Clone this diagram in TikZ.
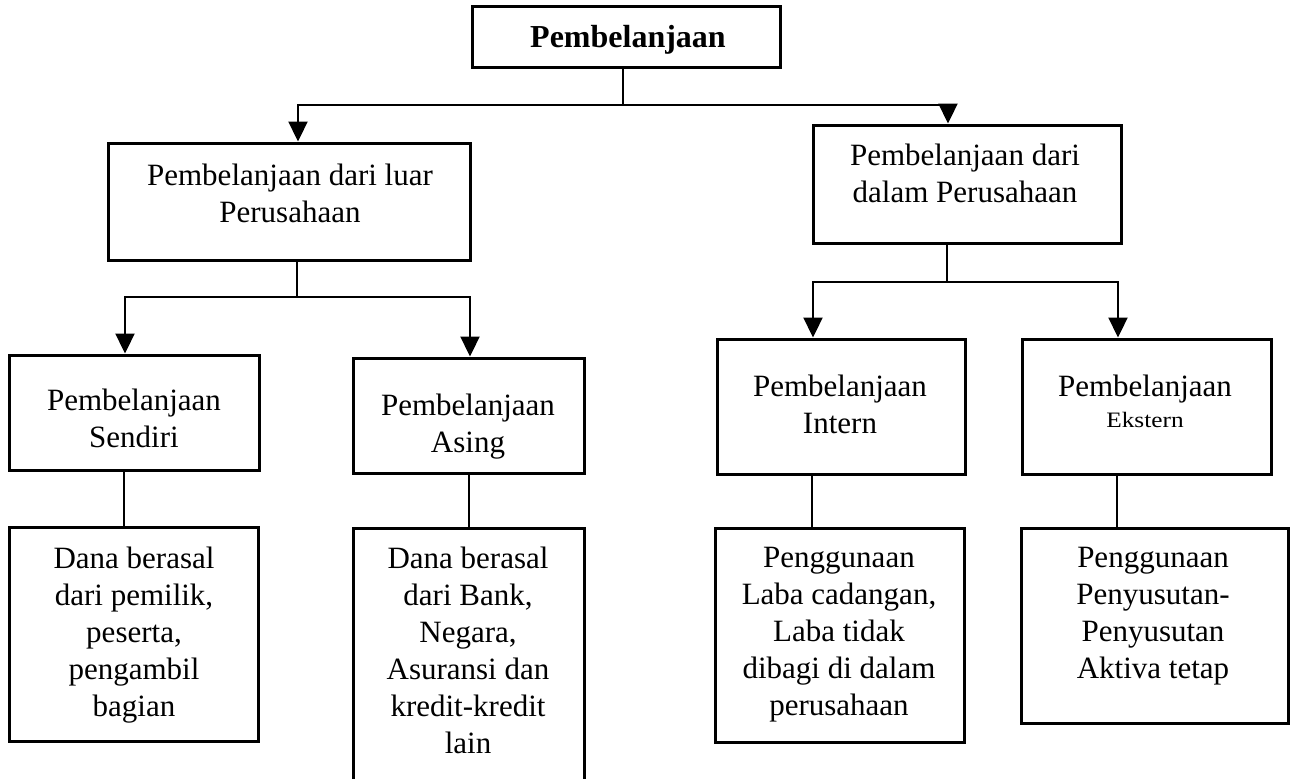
\documentclass[tikz,border=0pt]{standalone}
\usepackage{fontspec}
\setmainfont{Liberation Serif}
\usetikzlibrary{arrows.meta}
\begin{document}
\begin{tikzpicture}[x=1pt,y=-1pt,
  box/.style={draw,line width=3pt,inner sep=0pt},
  txt/.style={align=center,inner sep=0pt,font=\fontsize{31}{37}\selectfont},
  conn/.style={line width=2.3pt},
  arr/.style={line width=2.3pt,-{Triangle[length=20pt,width=19pt]}}]
\useasboundingbox (0,0) rectangle (1291,779);
\fill[white] (0,0) rectangle (1291,779);
% boxes
\node[box,minimum width=308pt,minimum height=61pt] (top) at (626,36.5) {};
\node[box,minimum width=362pt,minimum height=117pt] (L) at (289,201.5) {};
\node[box,minimum width=308pt,minimum height=118pt] (R) at (967,184) {};
\node[box,minimum width=250pt,minimum height=115pt] (S) at (134,412.5) {};
\node[box,minimum width=231pt,minimum height=115pt] (A) at (468.5,415.5) {};
\node[box,minimum width=248pt,minimum height=135pt] (I) at (841,406.5) {};
\node[box,minimum width=249pt,minimum height=135pt] (E) at (1146.5,406.5) {};
\node[box,minimum width=249pt,minimum height=214pt] (D1) at (133.5,634) {};
\node[box,minimum width=231pt,minimum height=272pt] (D2) at (468.5,664) {};
\node[box,minimum width=249pt,minimum height=214pt] (D3) at (839.5,635) {};
\node[box,minimum width=267pt,minimum height=195pt] (D4) at (1154.5,625.5) {};
% texts
\node[inner sep=0pt,anchor=base,font=\fontsize{32}{38}\selectfont\bfseries] (tTop) at (628,47) {Pembelanjaan};
\node[txt,anchor=north] (tL) at (290,164) {Pembelanjaan dari luar\\Perusahaan};
\node[txt,anchor=north] (tR) at (965,144) {Pembelanjaan dari\\dalam Perusahaan};
\node[txt,anchor=north] (tS) at (134,389) {Pembelanjaan\\Sendiri};
\node[txt,anchor=north] (tA) at (468,394) {Pembelanjaan\\Asing};
\node[txt,anchor=north] (tI) at (840,375) {Pembelanjaan\\Intern};
\node[txt,anchor=base] (tE1) at (1145,396) {Pembelanjaan};
\node[inner sep=0pt,anchor=base,font=\fontsize{22}{26}\selectfont,transform shape,xscale=1.15] (tE2) at (1145,427) {Ekstern};
\node[txt,anchor=north] (tD1) at (134,547) {Dana berasal\\dari pemilik,\\peserta,\\pengambil\\bagian};
\node[txt,anchor=north] (tD2) at (468,547) {Dana berasal\\dari Bank,\\Negara,\\Asuransi dan\\kredit-kredit\\lain};
\node[txt,anchor=north] (tD3) at (839,547) {Penggunaan\\Laba cadangan,\\Laba tidak\\dibagi di dalam\\perusahaan};
\node[txt,anchor=north] (tD4) at (1153,547) {Penggunaan\\Penyusutan-\\Penyusutan\\Aktiva tetap};
% junction coordinates
\coordinate (j0) at (623,105);
\coordinate (aL) at (298,105);
\coordinate (aR) at (948,105);
\coordinate (j1) at (297,297);
\coordinate (aS) at (125,297);
\coordinate (aA) at (470,297);
\coordinate (j2) at (947,282);
\coordinate (aI) at (813,282);
\coordinate (aE) at (1118,282);
\coordinate (xS) at (124,0);
\coordinate (xA) at (469,0);
\coordinate (xI) at (812,0);
\coordinate (xE) at (1117,0);
% connectors level 1
\draw[conn] (top.south -| j0) -- (j0);
\draw[arr] (j0) -- (aL) -- (L.north -| aL);
\draw[arr] (j0) -- (aR) -- (R.north -| aR);
% level 2
\draw[conn] (L.south -| j1) -- (j1);
\draw[arr] (j1) -- (aS) -- (S.north -| aS);
\draw[arr] (j1) -- (aA) -- (A.north -| aA);
\draw[conn] (R.south -| j2) -- (j2);
\draw[arr] (j2) -- (aI) -- (I.north -| aI);
\draw[arr] (j2) -- (aE) -- (E.north -| aE);
% level 3
\draw[conn] (S.south -| xS) -- (D1.north -| xS);
\draw[conn] (A.south -| xA) -- (D2.north -| xA);
\draw[conn] (I.south -| xI) -- (D3.north -| xI);
\draw[conn] (E.south -| xE) -- (D4.north -| xE);
\end{tikzpicture}
\end{document}
